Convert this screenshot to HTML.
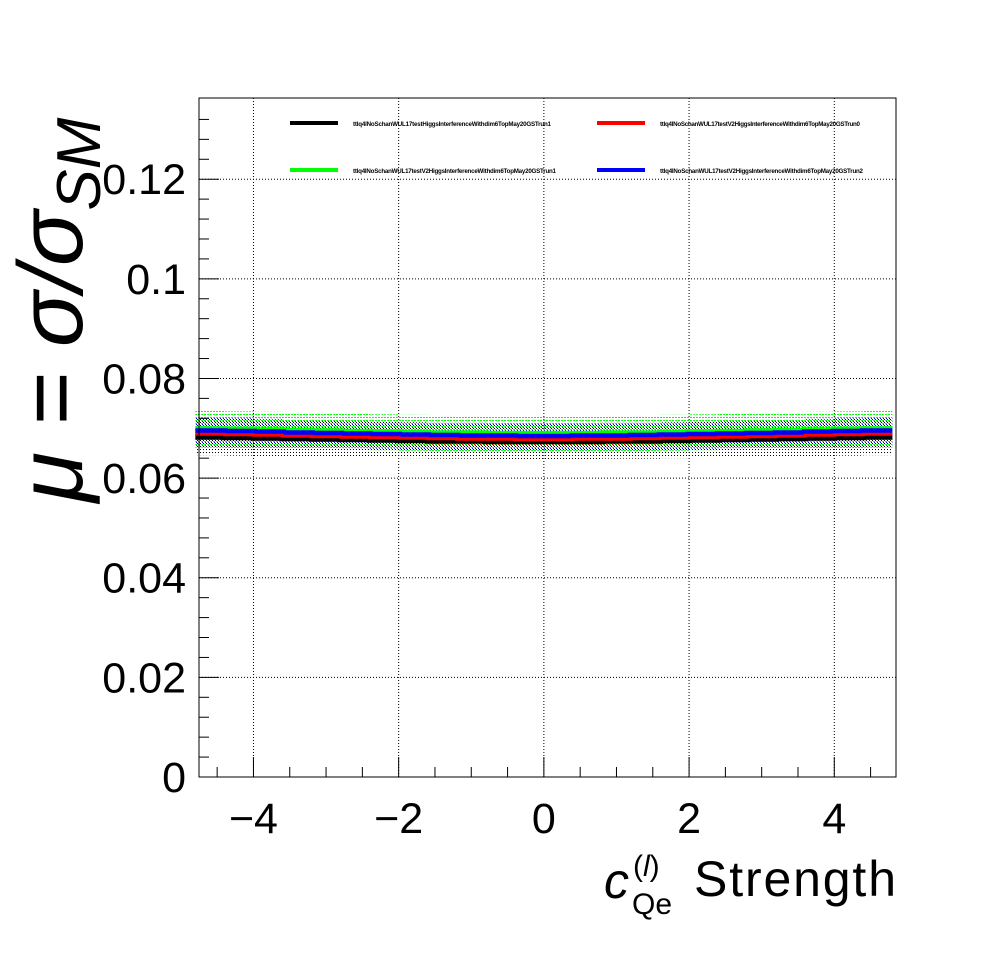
<!DOCTYPE html>
<html><head><meta charset="utf-8"><style>
html,body{margin:0;padding:0;background:#fff;}
svg{display:block;font-family:"Liberation Sans",sans-serif;}
</style></head><body>
<svg id="chart" width="996" height="972" xmlns="http://www.w3.org/2000/svg">
<defs>
<pattern id="pg" width="3" height="3" patternUnits="userSpaceOnUse"><rect width="2" height="1" fill="#00ff00"/></pattern>
<pattern id="pb" width="3" height="3" patternUnits="userSpaceOnUse"><rect x="1" y="1" width="1" height="1" fill="#0000ff"/></pattern>
<pattern id="pk" width="3" height="3" patternUnits="userSpaceOnUse"><rect x="2" y="2" width="1" height="1" fill="#000"/></pattern>
<pattern id="pr" width="3" height="3" patternUnits="userSpaceOnUse"><rect width="1" height="1" fill="#f00"/></pattern>
</defs>
<rect x="0" y="0" width="996" height="972" fill="#fff"/>
<g id="grid"></g>
<g id="bands"></g>
<g id="lines"></g>
<rect x="199" y="98" width="697" height="679" fill="none" stroke="#000" stroke-width="1"/>
<g id="axes"></g>
<g font-size="6.2" font-weight="bold">
<g><rect x="290" y="121" width="48" height="4" fill="#000"/><text x="353" y="126" textLength="198">ttlq4lNoSchanWUL17testHiggsInterferenceWithdim6TopMay20GSTrun1</text></g>
<g><rect x="597" y="121" width="48" height="4" fill="#f00"/><text x="660" y="126" textLength="200">ttlq4lNoSchanWUL17testV2HiggsInterferenceWithdim6TopMay20GSTrun0</text></g>
<g><rect x="290" y="168" width="48" height="4" fill="#00ff00"/><text x="353" y="173" textLength="203">ttlq4lNoSchanWUL17testV2HiggsInterferenceWithdim6TopMay20GSTrun1</text></g>
<g><rect x="597" y="168" width="48" height="4" fill="#00f"/><text x="660" y="173" textLength="203">ttlq4lNoSchanWUL17testV2HiggsInterferenceWithdim6TopMay20GSTrun2</text></g>
</g>
<text transform="translate(82,310) rotate(-90)" text-anchor="middle" font-size="92" font-style="italic">μ = σ/σ<tspan font-size="62" dy="18">SM</tspan></text>
<g font-size="50">
<text x="604" y="898" font-style="italic">c</text>
<text x="633" y="876" font-size="30">(<tspan font-style="italic">l</tspan>)</text>
<text x="632" y="914" font-size="30">Qe</text>
<text x="694" y="896" textLength="202">Strength</text>
</g>
</svg>
<script>
const xCenters=[-4.6,-4.2,-3.8,-3.4,-3.0,-2.6,-2.2,-1.8,-1.4,-1.0,-0.6,-0.2,0.2,0.6,1.0,1.4,1.8,2.2,2.6,3.0,3.4,3.8,4.2,4.6];
const blackVals=[0.0683,0.0682,0.0681,0.0680,0.0679,0.0678,0.0677,0.0676,0.0675,0.0675,0.0674,0.0674,0.0674,0.0674,0.0675,0.0675,0.0676,0.0677,0.0678,0.0679,0.0680,0.0681,0.0682,0.0683];
const redVals=[0.0688,0.0687,0.0686,0.0684,0.0683,0.0682,0.0681,0.0680,0.0679,0.0678,0.0678,0.0677,0.0677,0.0678,0.0678,0.0679,0.0680,0.0681,0.0682,0.0683,0.0684,0.0686,0.0687,0.0688];
const blueVals=[0.0693,0.0692,0.0691,0.0689,0.0688,0.0687,0.0686,0.0685,0.0684,0.0683,0.0683,0.0682,0.0682,0.0683,0.0683,0.0684,0.0685,0.0686,0.0687,0.0688,0.0689,0.0691,0.0692,0.0693];
const greenVals=[0.0698,0.0697,0.0696,0.0695,0.0694,0.0693,0.0692,0.0691,0.0690,0.0690,0.0689,0.0689,0.0689,0.0689,0.0690,0.0690,0.0691,0.0692,0.0693,0.0694,0.0695,0.0696,0.0697,0.0698];
const greenErr=[0.0037,0.0037,0.0037,0.0036,0.0036,0.0036,0.0036,0.0036,0.0036,0.0036,0.0036,0.0036,0.0036,0.0036,0.0036,0.0036,0.0036,0.0036,0.0036,0.0036,0.0036,0.0037,0.0037,0.0037];
const blueErr=[0.0028,0.0028,0.0028,0.0028,0.0027,0.0027,0.0027,0.0027,0.0027,0.0027,0.0027,0.0027,0.0027,0.0027,0.0027,0.0027,0.0027,0.0027,0.0027,0.0027,0.0028,0.0028,0.0028,0.0028];
const blackErr=[0.0012,0.0012,0.0012,0.0012,0.0012,0.0012,0.0012,0.0012,0.0012,0.0012,0.0012,0.0012,0.0012,0.0012,0.0012,0.0012,0.0012,0.0012,0.0012,0.0012,0.0012,0.0012,0.0012,0.0012];
const xTicks=[-4,-2,0,2,4];
const xTickLabels=["\u22124","\u22122","0","2","4"];
const yTicks=[0,0.02,0.04,0.06,0.08,0.1,0.12];
const yTickLabels=["0","0.02","0.04","0.06","0.08","0.1","0.12"];
const X0=199,X1=896,Y0=777,Y1=98,XMIN=-4.75,XMAX=4.85,YMIN=0,YMAX=0.1363;
function sx(v){return X0+(v-XMIN)/(XMAX-XMIN)*(X1-X0);}
function sy(v){return Y0-(v-YMIN)/(YMAX-YMIN)*(Y0-Y1);}
const NS="http://www.w3.org/2000/svg";
function mk(tag,parent,attrs){const e=document.createElementNS(NS,tag);for(const k in attrs)e.setAttribute(k,attrs[k]);parent.appendChild(e);return e;}
const grid=document.getElementById('grid'),axes=document.getElementById('axes'),bands=document.getElementById('bands'),lines=document.getElementById('lines');
xTicks.forEach((t,i)=>{
 const g=mk('line',grid,{x1:sx(t),x2:sx(t),y1:Y0,y2:Y1,stroke:'#000','stroke-dasharray':'1,2','stroke-width':1});
 
 
 const tk=mk('line',axes,{x1:sx(t),x2:sx(t),y1:Y0,y2:Y0-20,stroke:'#000'});
 
 
 const lb=mk('text',axes,{x:sx(t),y:833,'text-anchor':'middle','font-size':43});
 lb.textContent=xTickLabels[i];
 
 
});
for(let v=-4.5;v<=4.8;v+=0.5){if(Math.abs(v-Math.round(v/2)*2)<1e-6)continue;
 const m=mk('line',axes,{x1:sx(v),x2:sx(v),y1:Y0,y2:Y0-10,stroke:'#000'});
 
 }
yTicks.forEach((t,i)=>{
 if(t>0){const g=mk('line',grid,{x1:X0,x2:X1,y1:sy(t),y2:sy(t),stroke:'#000','stroke-dasharray':'1,2','stroke-width':1});
 
 }
 const tk=mk('line',axes,{x1:X0,x2:X0+20,y1:sy(t),y2:sy(t),stroke:'#000'});
 
 
 const lb=mk('text',axes,{x:186,y:sy(t)+15,'text-anchor':'end','font-size':43});
 lb.textContent=yTickLabels[i];
 
 
});
for(let v=0.004;v<0.136;v+=0.004){if(Math.abs(v/0.02-Math.round(v/0.02))<1e-6)continue;
 const m=mk('line',axes,{x1:X0,x2:X0+10,y1:sy(v),y2:sy(v),stroke:'#000'});
 
 }
const hw=0.2;
function band(vals,errs,fill,name){xCenters.forEach((x,i)=>{
 const r=mk('rect',bands,{x:sx(x-hw),width:sx(x+hw)-sx(x-hw),y:sy(vals[i]+errs[i]),height:sy(vals[i]-errs[i])-sy(vals[i]+errs[i]),fill:fill});
 
 });}
band(greenVals,greenErr,'url(#pg)','green-error-band');
band(blueVals,blueErr,'url(#pb)','blue-error-band');
band(blackVals,greenErr,'url(#pk)','black-error-band');
band(redVals,blackErr,'url(#pr)','red-error-band');
function series(vals,color,w,name){let d='';xCenters.forEach((x,i)=>{d+=(i?'L':'M')+sx(x-hw)+','+sy(vals[i])+'H'+sx(x+hw);});
 const p=mk('path',lines,{d:d,fill:'none',stroke:color,'stroke-width':w});
 
 }
series(greenVals,'#00ff00',6,'green-series');
series(blackVals,'#000',6,'black-series');
series(blueVals,'#0000ff',7,'blue-series');
series(redVals,'#ff0000',3,'red-series');
</script>
</body></html>
